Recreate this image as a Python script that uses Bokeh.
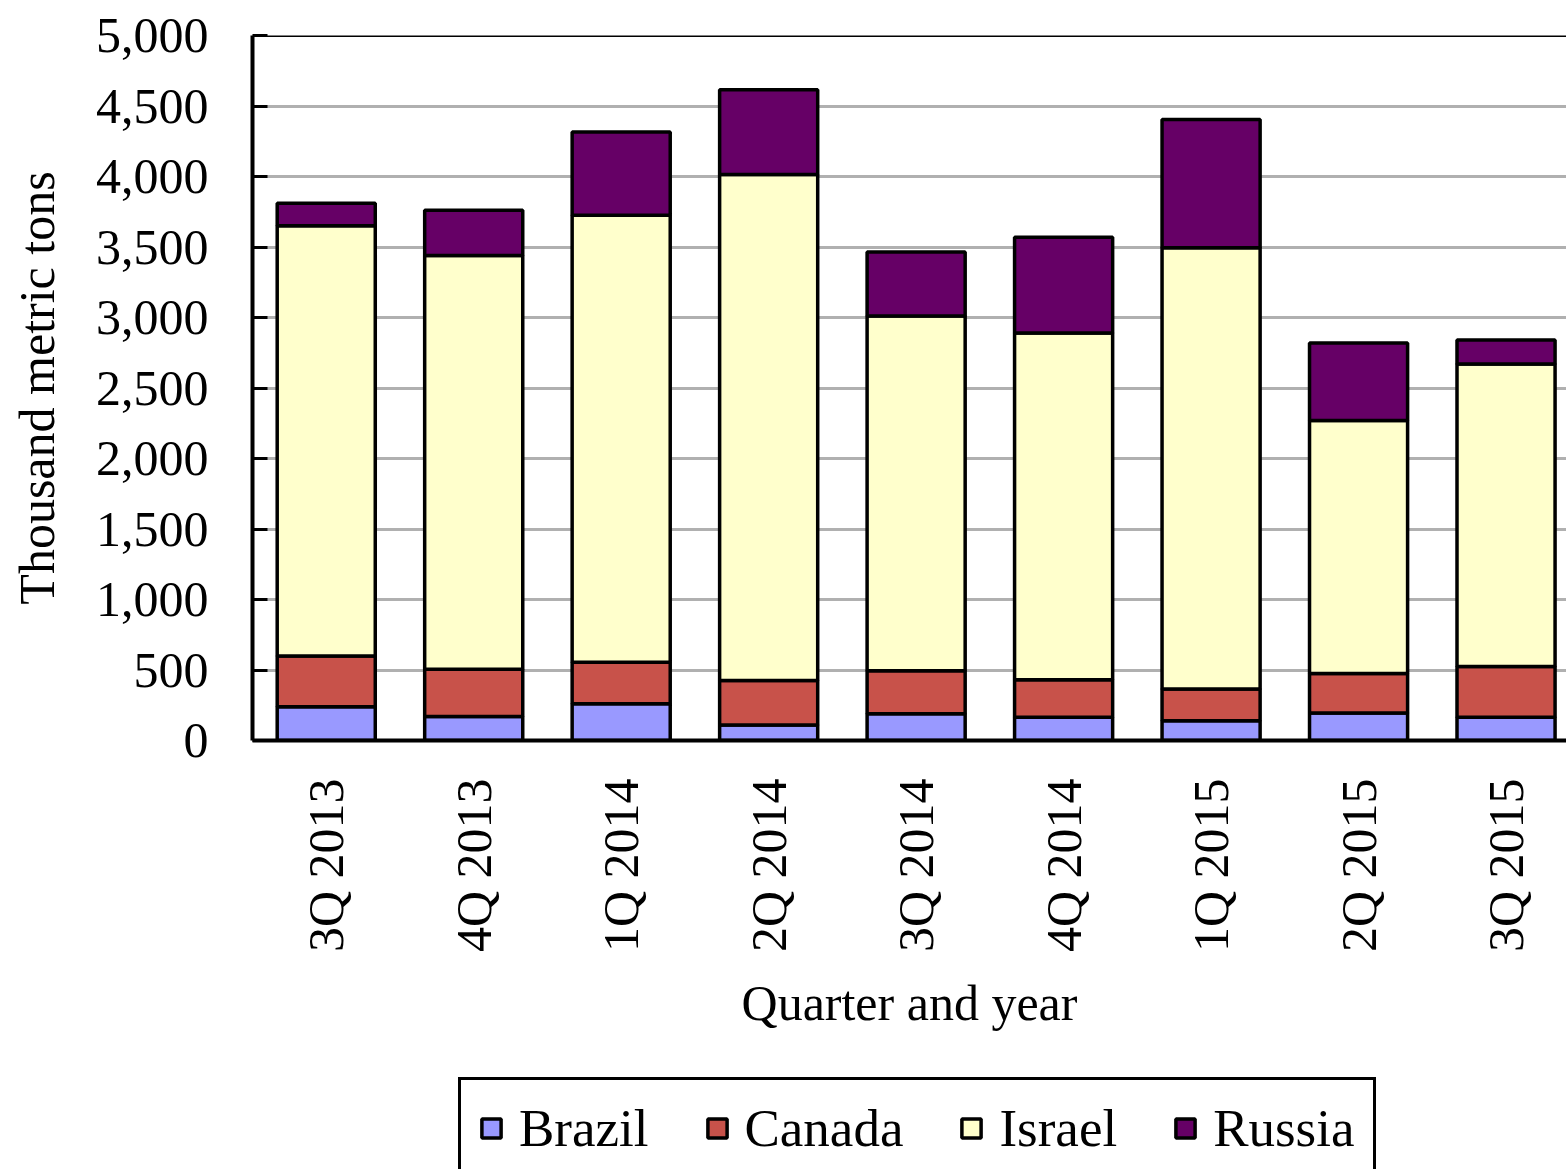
import numpy as np
from bokeh.plotting import figure
from bokeh.layouts import column
from bokeh.models import (ColumnDataSource, Range1d, FixedTicker, NumeralTickFormatter,
                          Legend, LegendItem, Span)
from bokeh.embed import file_html
from bokeh.resources import INLINE

# Quarterly imports by supplier, thousand metric tons
quarters = ["3Q 2013", "4Q 2013", "1Q 2014", "2Q 2014", "3Q 2014",
            "4Q 2014", "1Q 2015", "2Q 2015", "3Q 2015"]
brazil = [240, 170, 260, 110, 190, 165, 140, 195, 165]
canada = [360, 335, 295, 315, 305, 265, 225, 280, 360]
israel = [3050, 2935, 3170, 3590, 2515, 2460, 3130, 1795, 2145]
russia = [160, 320, 590, 600, 455, 680, 910, 550, 170]

countries = ["Brazil", "Canada", "Israel", "Russia"]
colors = ["#9999FF", "#C8524A", "#FFFFCC", "#660066"]
y_ticks = list(range(0, 5001, 500))

FONT = "Liberation Serif"
WIDTH = 1566

positions = list(range(len(quarters)))
source = ColumnDataSource(dict(x=positions, Brazil=brazil, Canada=canada,
                               Israel=israel, Russia=russia))

bar_style = dict(x="x", width=0.665, source=source, fill_color=colors,
                 line_color="black", line_width=3.5)

# ---- main chart -------------------------------------------------------------
p = figure(width=WIDTH, height=1040, output_backend="svg", toolbar_location=None,
           x_range=Range1d(-0.5, 8.41), y_range=Range1d(y_ticks[0], y_ticks[-1]),
           min_border_left=252, min_border_right=0, min_border_top=35,
           min_border_bottom=300)
p.outline_line_color = None
p.background_fill_color = "white"
p.border_fill_color = "white"

p.vbar_stack(countries, **bar_style)

# top edge of the plotting frame
p.add_layout(Span(location=y_ticks[-1], dimension="width",
                  line_color="black", line_width=3))

# grid
p.xgrid.visible = False
p.ygrid.ticker = FixedTicker(ticks=y_ticks)
p.ygrid.grid_line_color = "#B0B0B0"
p.ygrid.grid_line_width = 3

# y axis
ya = p.yaxis[0]
ya.ticker = FixedTicker(ticks=y_ticks)
ya.formatter = NumeralTickFormatter(format="0,0")
ya.axis_label = "Thousand metric tons"
ya.axis_label_text_font = FONT
ya.axis_label_text_font_size = "50px"
ya.axis_label_text_font_style = "normal"
ya.axis_label_text_color = "black"
ya.axis_label_standoff = 28
ya.major_label_text_font = FONT
ya.major_label_text_font_size = "50px"
ya.major_label_text_color = "black"
ya.major_label_standoff = 44
ya.axis_line_color = "black"
ya.axis_line_width = 4
ya.major_tick_in = 15
ya.major_tick_out = 0
ya.major_tick_line_width = 3
ya.major_tick_line_color = "black"
ya.minor_tick_line_color = None

# x axis
xa = p.xaxis[0]
xa.ticker = FixedTicker(ticks=positions)
xa.major_label_overrides = {i: q for i, q in zip(positions, quarters)}
xa.major_label_orientation = np.pi / 2
xa.major_label_text_font = FONT
xa.major_label_text_font_size = "50px"
xa.major_label_text_color = "black"
xa.major_label_standoff = 32
xa.axis_label = "Quarter and year"
xa.axis_label_text_font = FONT
xa.axis_label_text_font_size = "50px"
xa.axis_label_text_font_style = "normal"
xa.axis_label_text_color = "black"
xa.axis_label_standoff = 20
xa.axis_line_color = "black"
xa.axis_line_width = 4
xa.major_tick_line_color = None
xa.minor_tick_line_color = None

# ---- legend strip under the chart --------------------------------------------
# hidden copies of the stacked bars give the legend its swatches
lg = figure(width=WIDTH, height=129, output_backend="svg", toolbar_location=None,
            x_range=Range1d(-0.5, 8.41), y_range=Range1d(-200, -100),
            min_border=0)
lg.outline_line_color = None
lg.axis.visible = False
lg.grid.visible = False
lg.background_fill_color = "white"
lg.border_fill_color = "white"
legend_bars = lg.vbar_stack(countries, **bar_style)
for r in legend_bars:
    r.visible = False

legend = Legend(items=[LegendItem(label=c, renderers=[r]) for c, r in zip(countries, legend_bars)],
                orientation="horizontal", location=(206, -10))
legend.label_text_font = FONT
legend.label_text_font_size = "53px"
legend.label_text_color = "black"
legend.glyph_width = 24
legend.glyph_height = 24
legend.label_standoff = 16
legend.spacing = 56
legend.padding = 18
legend.margin = 0
legend.border_line_color = "black"
legend.border_line_alpha = 1.0
legend.border_line_width = 3
legend.background_fill_color = "white"
legend.background_fill_alpha = 1.0
legend.inactive_fill_alpha = 0.0
lg.add_layout(legend, "center")

layout = column(p, lg, spacing=0)
open("out.html", "w").write(file_html(layout, INLINE))
